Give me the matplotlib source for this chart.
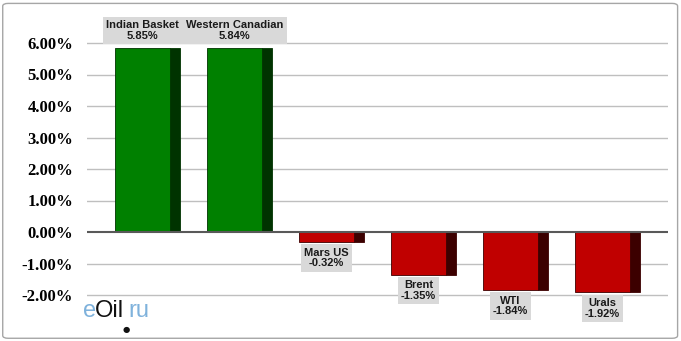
import numpy as np
import matplotlib.pyplot as plt
from matplotlib.patches import FancyBboxPatch

names = ["Indian Basket", "Western Canadian", "Mars US", "Brent", "WTI", "Urals"]
values = [5.85, 5.84, -0.32, -1.35, -1.84, -1.92]
yticks = [-2, -1, 0, 1, 2, 3, 4, 5, 6]

green, green_dark = "#008000", "#003300"
red, red_dark = "#c00000", "#3c0000"

fig = plt.figure(figsize=(6.81, 3.41), dpi=100)
W, H = 681, 341
# axes mapped so that 0% sits at y=232px and 1% = 31.5px
ax = fig.add_axes([87 / W, 0, (668 - 87) / W, 1])
ax.set_ylim(-(H - 232) / 31.5, 232 / 31.5)
ax.set_xlim((87 - 142.5) / 92, (668 - 142.5) / 92)

x = np.arange(len(names))
front_w, side_w = 0.6, 0.11
fronts = [green if v > 0 else red for v in values]
sides = [green_dark if v > 0 else red_dark for v in values]

for yt in yticks:
    if yt == 0:
        continue
    ax.axhline(yt, color="#bfbfbf", lw=1, zorder=0)
ax.axhline(0, color="#595959", lw=1.5, zorder=3)

ax.bar(x + front_w / 2 + side_w / 2 - 0.005, values, width=side_w,
       color=sides, edgecolor=sides, lw=0.6, zorder=2)
ax.bar(x, values, width=front_w, color=fronts, edgecolor=sides, lw=0.6, zorder=2)

for xi, v, n in zip(x, values, names):
    off = 5 if v > 0 else -4
    ax.annotate(f"{n}\n{v:.2f}%", (xi, v), xytext=(0, off), textcoords="offset points",
                ha="center", va="bottom" if v > 0 else "top", fontsize=8,
                fontweight="bold", family="Liberation Sans", color="#1a1a1a",
                linespacing=1.1, zorder=4,
                bbox=dict(boxstyle="square,pad=0.3", fc="#d9d9d9", ec="none"))

ax.set_yticks(yticks)
ax.set_yticklabels([f"{t:.2f}%" for t in yticks], fontsize=12, fontweight="bold",
                   family="Liberation Serif")
ax.tick_params(axis="y", length=0, pad=10)
ax.set_xticks([])
for s in ax.spines.values():
    s.set_visible(False)
ax.patch.set_alpha(0)

# watermark
wy = 0.087
fig.text(83 / W, wy, "e", fontsize=17, color="#7fb2dc", family="Liberation Sans",
         va="center", ha="left")
fig.text(95 / W, wy, "Oil", fontsize=17, color="#111111", family="Liberation Sans",
         va="center", ha="left")
fig.text(128 / W, wy, "ru", fontsize=17, color="#7fb2dc", family="Liberation Sans",
         va="center", ha="left")
fig.text(126 / W, 0.035, "\u25CF", fontsize=6, color="#111111", va="center", ha="center")

fig.patches.append(FancyBboxPatch((0.004, 0.008), 0.991, 0.982, transform=fig.transFigure,
                                  boxstyle="round,pad=0,rounding_size=0.008",
                                  fill=False, ec="#a6a6a6", lw=1))

fig.savefig("out.png", dpi=100)
